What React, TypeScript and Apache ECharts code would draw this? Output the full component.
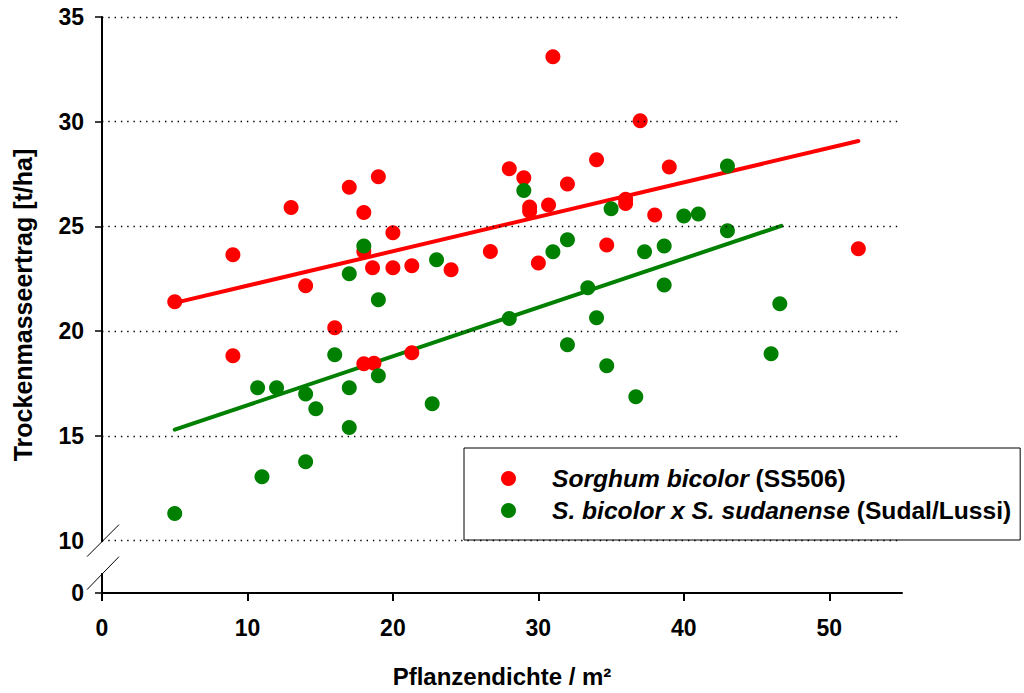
import React, { useEffect, useRef } from "react";
import * as echarts from "echarts";

const redName = "Sorghum bicolor (SS506)";
const greenName = "S. bicolor x S. sudanense (Sudal/Lussi)";

const redX = [5, 9, 9, 13, 14, 16, 17, 18, 18, 18, 18.7, 19, 18.6, 20, 20, 21.3, 21.3, 24, 26.7, 28, 29, 29.4, 29.4, 30.7, 30, 31, 32, 34, 34.7, 36, 36, 37, 38, 39, 52];
const redY = [21.4, 23.65, 18.83, 25.9, 22.17, 20.16, 26.87, 25.67, 23.8, 18.44, 18.47, 27.37, 23.03, 24.7, 23.03, 23.12, 18.97, 22.93, 23.8, 27.75, 27.32, 25.93, 25.72, 26.03, 23.26, 33.1, 27.03, 28.18, 24.12, 26.3, 26.1, 30.05, 25.55, 27.84, 23.93];

const greenX = [5, 10.7, 11, 12, 14, 14, 14.7, 16, 17, 17, 17, 18, 19, 19, 22.7, 23, 28, 29, 31, 32, 32, 33.4, 34, 34.7, 35, 36.7, 37.3, 38.65, 38.65, 40, 41, 43, 43, 46, 46.6];
const greenY = [11.3, 17.3, 13.05, 17.3, 17.0, 13.77, 16.3, 18.87, 22.74, 17.3, 15.4, 24.07, 21.5, 17.87, 16.54, 23.41, 20.6, 26.72, 23.79, 24.36, 19.35, 22.07, 20.64, 18.35, 25.84, 16.87, 23.79, 24.07, 22.21, 25.5, 25.6, 27.89, 24.79, 18.92, 21.31];

const redFitX = [5, 52];
const redFitY = [21.35, 29.08];
const greenFitX = [5, 46.7];
const greenFitY = [15.3, 25.03];

const xTicks = [0, 10, 20, 30, 40, 50];
const yTicks = [0, 10, 15, 20, 25, 30, 35];
const yGrid = [10, 15, 20, 25, 30, 35];

// broken axis: values from 10 upward are shifted down
const BREAK_SHIFT = 7.5;
const toDisp = (v: number) => (v === 0 ? 0 : v - BREAK_SHIFT);
const fromDisp = (d: number) => (d === 0 ? 0 : Math.round(d + BREAK_SHIFT));

const FONT = "'Liberation Sans', Arial, sans-serif";
const TICK_FS = 23;
const TITLE_FS = 24;
const YTITLE_FS = 25;
const LEGEND_FS = 24.6;

export default function App() {
  const ref = useRef<HTMLDivElement>(null);
  useEffect(() => {
    const chart = echarts.init(ref.current!, null, { renderer: "svg" });
    const pts = (xs: number[], ys: number[]) => xs.map((x, i) => [x, toDisp(ys[i])]);
    const option: any = {
      animation: false,
      backgroundColor: "#fff",
      grid: { left: 102, top: 17, right: 122, bottom: 99, containLabel: false },
      xAxis: {
        type: "value",
        min: 0,
        max: 55,
        interval: 10,
        name: "Pflanzendichte / m²",
        nameLocation: "middle",
        nameGap: 71,
        nameTextStyle: { fontFamily: FONT, fontWeight: "bold", fontSize: TITLE_FS, color: "#000" },
        axisLine: { show: true, lineStyle: { color: "#000", width: 2 } },
        axisTick: { show: true, length: 8, lineStyle: { color: "#000", width: 2 }, customValues: xTicks },
        axisLabel: { fontFamily: FONT, fontWeight: "bold", fontSize: TICK_FS, color: "#000", margin: 23, customValues: xTicks },
        splitLine: { show: false },
      },
      yAxis: {
        type: "value",
        min: 0,
        max: toDisp(35),
        interval: 2.5,
        name: "Trockenmasseertrag [t/ha]",
        nameLocation: "middle",
        nameGap: 67,
        nameTextStyle: { fontFamily: FONT, fontWeight: "bold", fontSize: YTITLE_FS, color: "#000" },
        axisLine: { show: true, onZero: false, lineStyle: { color: "#000", width: 2 } },
        axisTick: {
          show: true,
          length: 7,
          lineStyle: { color: "#000", width: 1.5 },
          customValues: yTicks.filter((v) => v !== 10).map(toDisp),
        },
        axisLabel: {
          fontFamily: FONT,
          fontWeight: "bold",
          fontSize: TICK_FS,
          color: "#000",
          margin: 18,
          customValues: yTicks.map(toDisp),
          formatter: (v: number) => String(fromDisp(v)),
        },
        splitLine: { show: false },
      },
      legend: {
        orient: "vertical",
        left: 464,
        top: 448,
        data: [redName, greenName],
        icon: "circle",
        itemWidth: 15,
        itemHeight: 15,
        itemGap: 7,
        padding: [18, 9, 17, 37],
        backgroundColor: "#fff",
        borderColor: "#000",
        borderWidth: 1,
        textStyle: {
          padding: [0, 0, 0, 31],
          fontFamily: FONT,
          fontSize: LEGEND_FS,
          fontWeight: "bold",
          color: "#000",
          rich: {
            i: { fontFamily: FONT, fontSize: LEGEND_FS, fontWeight: "bold", fontStyle: "italic", color: "#000", lineHeight: 26 },
            n: { fontFamily: FONT, fontSize: LEGEND_FS, fontWeight: "bold", color: "#000", lineHeight: 26 },
          },
        },
        formatter: (name: string) =>
          name === redName
            ? "{i|Sorghum bicolor} {n|(SS506)}"
            : "{i|S. bicolor x S. sudanense} {n|(Sudal/Lussi)}",
      },
      series: [
        {
          name: "grid",
          type: "line",
          data: [],
          z: 0,
          silent: true,
          markLine: {
            silent: true,
            symbol: ["none", "none"],
            label: { show: false },
            lineStyle: { color: "#000", type: [1.4, 4.9], width: 1.4 },
            data: yGrid.map((v) => ({ yAxis: toDisp(v) })),
          },
        },
        {
          name: "redFit",
          type: "line",
          data: pts(redFitX, redFitY),
          showSymbol: false,
          symbol: "none",
          z: 1,
          lineStyle: { color: "#ff0000", width: 4, cap: "round" },
        },
        {
          name: "greenFit",
          type: "line",
          data: pts(greenFitX, greenFitY),
          showSymbol: false,
          symbol: "none",
          z: 1,
          lineStyle: { color: "#008000", width: 4, cap: "round" },
        },
        {
          name: redName,
          type: "scatter",
          data: pts(redX, redY),
          symbol: "circle",
          symbolSize: 15,
          z: 2,
          itemStyle: { color: "#ff0000", opacity: 1 },
        },
        {
          name: greenName,
          type: "scatter",
          data: pts(greenX, greenY),
          symbol: "circle",
          symbolSize: 15,
          z: 3,
          itemStyle: { color: "#008000", opacity: 1 },
        },
      ],
    };
    chart.setOption(option);

    // axis break marks
    const p10 = chart.convertToPixel({ gridIndex: 0 }, [0, toDisp(10)]) as number[];
    const x0 = p10[0];
    const y10 = p10[1];
    chart.setOption({
      graphic: [
        { type: "rect", shape: { x: x0 - 3, y: y10 + 1.5, width: 6, height: 31 }, style: { fill: "#fff" }, z: 100 },
        { type: "line", shape: { x1: x0 - 15, y1: y10 + 16, x2: x0 + 17, y2: y10 - 16 }, style: { stroke: "#000", lineWidth: 1 }, z: 101 },
        { type: "line", shape: { x1: x0 - 15, y1: y10 + 49, x2: x0 + 17, y2: y10 + 16 }, style: { stroke: "#000", lineWidth: 1 }, z: 101 },
      ],
    });
    return () => chart.dispose();
  }, []);
  return <div ref={ref} style={{ position: "absolute", left: 0, top: 0, width: 1024, height: 693 }} />;
}
